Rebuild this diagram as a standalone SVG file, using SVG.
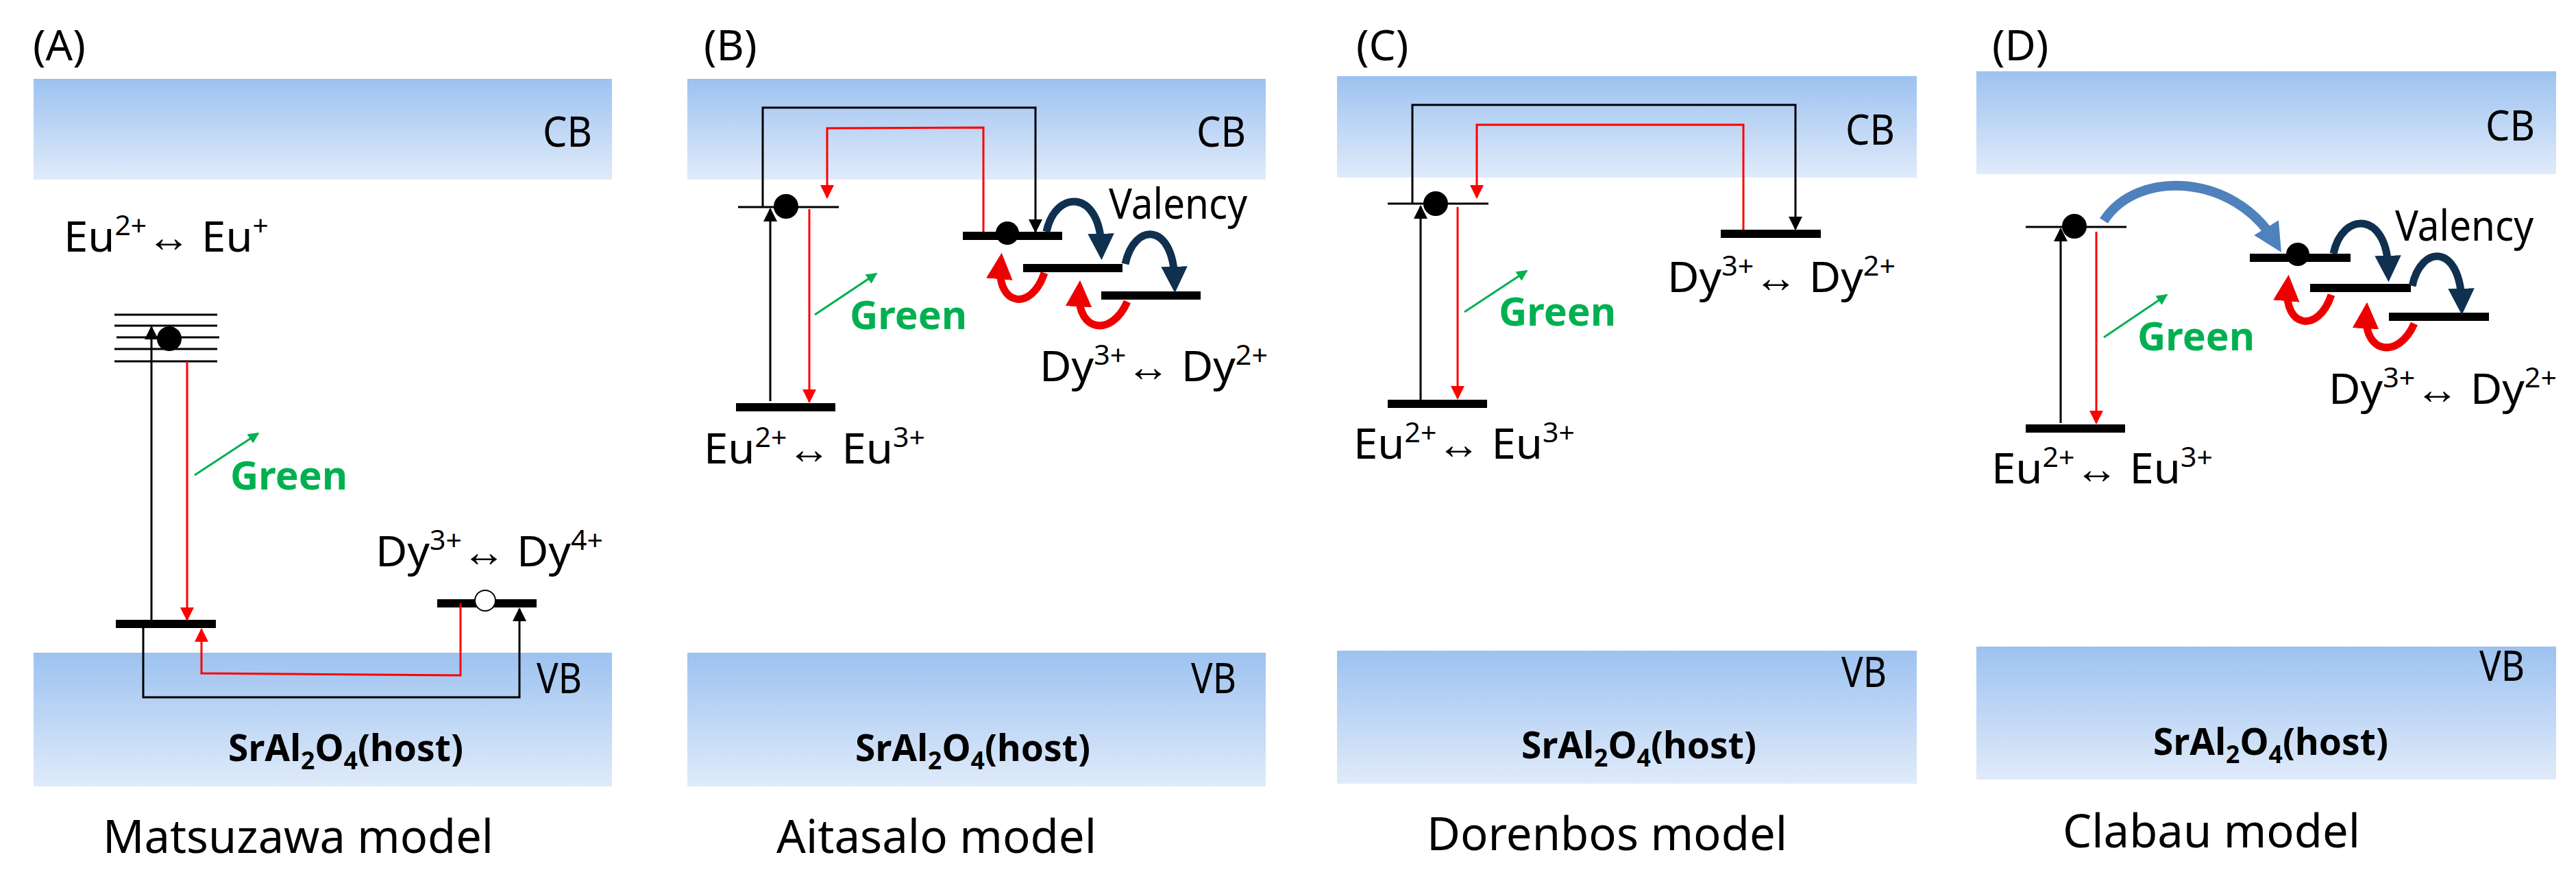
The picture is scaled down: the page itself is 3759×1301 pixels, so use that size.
<svg xmlns="http://www.w3.org/2000/svg" width="3759" height="1301" viewBox="0 0 3759 1301">
<style>
text{font-family:"Noto Sans","Liberation Sans",sans-serif;fill:#000}
.lab{font-size:62px}
.ion{font-size:62px}
.sup{font-size:40px}
.grn{font-size:58px;font-weight:bold;fill:#00b050}
.host{font-size:54px;font-weight:bold}
.sub{font-size:36px}
.model{font-size:68px}
.band{fill:url(#bg)}
.k{stroke:#000;stroke-width:3;fill:none}
.r{stroke:#f00;stroke-width:3;fill:none}
.bar{stroke:#000;stroke-width:12}
.thin{stroke:#000;stroke-width:3}
.g{stroke:#00b050;stroke-width:3;fill:none}
.navy{stroke:#10304f;stroke-width:11;fill:none}
.red{stroke:#e00;stroke-width:11;fill:none}
</style>
<defs>
<linearGradient id="bg" x1="0" y1="0" x2="0" y2="1"><stop offset="0" stop-color="#9dc2f0"/><stop offset="1" stop-color="#e0ebfa"/></linearGradient>
<marker id="ak" viewBox="0 0 10 10" refX="9" refY="5" markerWidth="22" markerHeight="20" orient="auto" markerUnits="userSpaceOnUse"><path d="M0,0L10,5L0,10z" fill="#000"/></marker>
<marker id="ar" viewBox="0 0 10 10" refX="9" refY="5" markerWidth="22" markerHeight="20" orient="auto" markerUnits="userSpaceOnUse"><path d="M0,0L10,5L0,10z" fill="#f00"/></marker>
<marker id="ag" viewBox="0 0 10 10" refX="9" refY="5" markerWidth="20" markerHeight="16" orient="auto" markerUnits="userSpaceOnUse"><path d="M0,0L10,5L0,10z" fill="#00b050"/></marker>
<marker id="an" viewBox="0 0 10 10" refX="5" refY="5" markerWidth="3.5" markerHeight="3.5" orient="auto"><path d="M0,0L10,5L0,10z" fill="#10304f"/></marker>
<marker id="ad" viewBox="0 0 10 10" refX="5" refY="5" markerWidth="3.5" markerHeight="3.5" orient="auto"><path d="M0,0L10,5L0,10z" fill="#e00"/></marker>
<marker id="ab" viewBox="0 0 10 10" refX="5" refY="5" markerWidth="3" markerHeight="3" orient="auto"><path d="M0,0L10,5L0,10z" fill="#4f81bd"/></marker>
<g id="curls">
<path class="navy" d="M1527,338 C1540,276 1605,276 1607,360" marker-end="url(#an)"/>
<path class="navy" d="M1642,385 C1655,324 1712,324 1714,408" marker-end="url(#an)"/>
<path class="red" d="M1524,398 C1505,455 1455,446 1460,388" marker-end="url(#ad)"/>
<path class="red" d="M1645,440 C1622,492 1572,484 1575,428" marker-end="url(#ad)"/>
</g>
</defs>

<g id="panelA">
<text class="lab" x="48" y="88">(A)</text>
<rect class="band" x="49" y="115" width="844" height="147"/>
<text class="lab" x="792" y="214" textLength="72" lengthAdjust="spacingAndGlyphs">CB</text>
<rect class="band" x="49" y="952" width="844" height="195"/>
<text class="lab" x="783" y="1011" textLength="66" lengthAdjust="spacingAndGlyphs">VB</text>
<text class="ion" x="93" y="367" textLength="299" lengthAdjust="spacingAndGlyphs">Eu<tspan class="sup" dy="-24">2+</tspan><tspan dy="24">↔ Eu</tspan><tspan class="sup" dy="-24">+</tspan></text>
<g id="A-levels">
<line class="thin" x1="167" y1="459" x2="317" y2="459"/><line class="thin" x1="167" y1="475" x2="317" y2="475"/><line class="thin" x1="170" y1="492" x2="320" y2="492"/><line class="thin" x1="167" y1="509" x2="317" y2="509"/><line class="thin" x1="167" y1="527" x2="317" y2="527"/>
<circle cx="247" cy="494" r="18"/>
<line class="bar" x1="169" y1="910" x2="315" y2="910"/>
<line class="bar" x1="638" y1="880" x2="783" y2="880"/>
<circle cx="708" cy="876" r="15" fill="#fff" stroke="#000" stroke-width="2"/>
</g>
<text class="grn" x="336" y="714" textLength="171" lengthAdjust="spacingAndGlyphs">Green</text>
<text class="ion" x="548" y="826" textLength="332" lengthAdjust="spacingAndGlyphs">Dy<tspan class="sup" dy="-24">3+</tspan><tspan dy="24">↔ Dy</tspan><tspan class="sup" dy="-24">4+</tspan></text>
<text class="host" x="333" y="1110" textLength="343" lengthAdjust="spacingAndGlyphs">SrAl<tspan class="sub" dy="12">2</tspan><tspan dy="-12">O</tspan><tspan class="sub" dy="12">4</tspan><tspan dy="-12">(host)</tspan></text>
<text class="model" x="150" y="1244" textLength="570" lengthAdjust="spacingAndGlyphs">Matsuzawa  model</text>
</g>

<g id="panelB">
<text class="lab" x="1027" y="88">(B)</text>
<rect class="band" x="1003" y="115" width="844" height="147"/>
<text class="lab" x="1746" y="214" textLength="72" lengthAdjust="spacingAndGlyphs">CB</text>
<rect class="band" x="1003" y="952" width="844" height="195"/>
<text class="lab" x="1738" y="1011" textLength="66" lengthAdjust="spacingAndGlyphs">VB</text>
<line class="thin" x1="1077" y1="302" x2="1224" y2="302"/>
<circle cx="1147" cy="301" r="18"/>
<line class="bar" x1="1074" y1="594" x2="1219" y2="594"/>
<line class="bar" x1="1405" y1="344" x2="1550" y2="344"/>
<line class="bar" x1="1493" y1="391" x2="1638" y2="391"/>
<line class="bar" x1="1607" y1="431" x2="1752" y2="431"/>
<circle cx="1470" cy="340" r="17"/>
<use href="#curls"/>
<text class="lab" x="1618" y="319" textLength="202" lengthAdjust="spacingAndGlyphs">Valency</text>
<text class="grn" x="1240" y="480" textLength="171" lengthAdjust="spacingAndGlyphs">Green</text>
<text class="ion" x="1517" y="556" textLength="333" lengthAdjust="spacingAndGlyphs">Dy<tspan class="sup" dy="-24">3+</tspan><tspan dy="24">↔ Dy</tspan><tspan class="sup" dy="-24">2+</tspan></text>
<text class="ion" x="1027" y="676" textLength="323" lengthAdjust="spacingAndGlyphs">Eu<tspan class="sup" dy="-24">2+</tspan><tspan dy="24">↔ Eu</tspan><tspan class="sup" dy="-24">3+</tspan></text>
<text class="host" x="1248" y="1110" textLength="343" lengthAdjust="spacingAndGlyphs">SrAl<tspan class="sub" dy="12">2</tspan><tspan dy="-12">O</tspan><tspan class="sub" dy="12">4</tspan><tspan dy="-12">(host)</tspan></text>
<text class="model" x="1133" y="1244" textLength="467" lengthAdjust="spacingAndGlyphs">Aitasalo  model</text>
</g>

<g id="panelC">
<text class="lab" x="1979" y="88">(C)</text>
<rect class="band" x="1951" y="111" width="846" height="148"/>
<text class="lab" x="2693" y="211" textLength="72" lengthAdjust="spacingAndGlyphs">CB</text>
<rect class="band" x="1951" y="949" width="846" height="194"/>
<text class="lab" x="2687" y="1002" textLength="66" lengthAdjust="spacingAndGlyphs">VB</text>
<line class="thin" x1="2025" y1="297" x2="2172" y2="297"/>
<circle cx="2095" cy="297" r="18"/>
<line class="bar" x1="2025" y1="589" x2="2170" y2="589"/>
<line class="bar" x1="2511" y1="341" x2="2657" y2="341"/>
<text class="grn" x="2187" y="475" textLength="171" lengthAdjust="spacingAndGlyphs">Green</text>
<text class="ion" x="2433" y="426" textLength="333" lengthAdjust="spacingAndGlyphs">Dy<tspan class="sup" dy="-24">3+</tspan><tspan dy="24">↔ Dy</tspan><tspan class="sup" dy="-24">2+</tspan></text>
<text class="ion" x="1975" y="669" textLength="323" lengthAdjust="spacingAndGlyphs">Eu<tspan class="sup" dy="-24">2+</tspan><tspan dy="24">↔ Eu</tspan><tspan class="sup" dy="-24">3+</tspan></text>
<text class="host" x="2220" y="1106" textLength="343" lengthAdjust="spacingAndGlyphs">SrAl<tspan class="sub" dy="12">2</tspan><tspan dy="-12">O</tspan><tspan class="sub" dy="12">4</tspan><tspan dy="-12">(host)</tspan></text>
<text class="model" x="2082" y="1240" textLength="526" lengthAdjust="spacingAndGlyphs">Dorenbos  model</text>
</g>

<g id="panelD">
<text class="lab" x="2907" y="88">(D)</text>
<rect class="band" x="2884" y="104" width="846" height="150"/>
<text class="lab" x="3627" y="205" textLength="72" lengthAdjust="spacingAndGlyphs">CB</text>
<rect class="band" x="2884" y="943" width="846" height="194"/>
<text class="lab" x="3618" y="993" textLength="66" lengthAdjust="spacingAndGlyphs">VB</text>
<line class="thin" x1="2956" y1="331" x2="3103" y2="331"/>
<circle cx="3027" cy="330" r="18"/>
<line class="bar" x1="2956" y1="625" x2="3101" y2="625"/>
<line class="bar" x1="3283" y1="376" x2="3430" y2="376"/>
<line class="bar" x1="3371" y1="420" x2="3518" y2="420"/>
<line class="bar" x1="3486" y1="462" x2="3632" y2="462"/>
<circle cx="3353" cy="371" r="17"/>
<use href="#curls" transform="translate(1878,32)"/>
<text class="lab" x="3495" y="351" textLength="202" lengthAdjust="spacingAndGlyphs">Valency</text>
<text class="grn" x="3119" y="511" textLength="171" lengthAdjust="spacingAndGlyphs">Green</text>
<text class="ion" x="3398" y="589" textLength="333" lengthAdjust="spacingAndGlyphs">Dy<tspan class="sup" dy="-24">3+</tspan><tspan dy="24">↔ Dy</tspan><tspan class="sup" dy="-24">2+</tspan></text>
<text class="ion" x="2906" y="705" textLength="323" lengthAdjust="spacingAndGlyphs">Eu<tspan class="sup" dy="-24">2+</tspan><tspan dy="24">↔ Eu</tspan><tspan class="sup" dy="-24">3+</tspan></text>
<text class="host" x="3142" y="1101" textLength="343" lengthAdjust="spacingAndGlyphs">SrAl<tspan class="sub" dy="12">2</tspan><tspan dy="-12">O</tspan><tspan class="sub" dy="12">4</tspan><tspan dy="-12">(host)</tspan></text>
<text class="model" x="3010" y="1236" textLength="434" lengthAdjust="spacingAndGlyphs">Clabau  model</text>
</g>

<g id="connectors">
<line class="k" x1="221" y1="906" x2="221" y2="477" marker-end="url(#ak)"/>
<line class="r" x1="273" y1="527" x2="273" y2="904" marker-end="url(#ar)"/>
<line class="g" x1="284" y1="693" x2="377" y2="632" marker-end="url(#ag)"/>
<polyline class="r" points="672,880 672,985 294,982 294,918" marker-end="url(#ar)"/>
<polyline class="k" points="209,916 209,1017 758,1017 758,888" marker-end="url(#ak)"/>

<line class="k" x1="1124" y1="585" x2="1124" y2="305" marker-end="url(#ak)"/>
<polyline class="k" points="1113,302 1113,157 1511,157 1511,338" marker-end="url(#ak)"/>
<polyline class="r" points="1435,338 1435,186 1207,187 1207,288" marker-end="url(#ar)"/>
<line class="r" x1="1181" y1="305" x2="1181" y2="586" marker-end="url(#ar)"/>
<line class="g" x1="1189" y1="459" x2="1279" y2="399" marker-end="url(#ag)"/>

<line class="k" x1="2073" y1="585" x2="2073" y2="301" marker-end="url(#ak)"/>
<polyline class="k" points="2061,297 2061,153 2620,153 2620,334" marker-end="url(#ak)"/>
<polyline class="r" points="2544,335 2544,182 2155,182 2155,288" marker-end="url(#ar)"/>
<line class="r" x1="2127" y1="302" x2="2127" y2="581" marker-end="url(#ar)"/>
<line class="g" x1="2137" y1="455" x2="2228" y2="395" marker-end="url(#ag)"/>

<line class="k" x1="3007" y1="617" x2="3007" y2="334" marker-end="url(#ak)"/>
<line class="r" x1="3059" y1="338" x2="3059" y2="617" marker-end="url(#ar)"/>
<line class="g" x1="3070" y1="492" x2="3162" y2="430" marker-end="url(#ag)"/>
<path d="M3070,322 C3120,245 3260,255 3318,350" stroke="#4f81bd" stroke-width="14" fill="none" marker-end="url(#ab)"/>
</g>
</svg>
